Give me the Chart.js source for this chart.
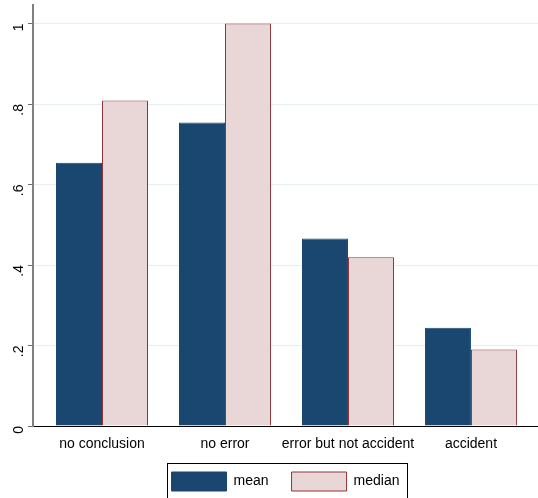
<!DOCTYPE html>
<html>
<head>
<meta charset="utf-8">
<script src="https://cdn.jsdelivr.net/npm/chart.js@4/dist/chart.umd.min.js"></script>
<style>
  html, body { margin: 0; padding: 0; background: #fff; }
  #wrap { width: 538px; height: 498px; }
</style>
</head>
<body>
<div id="wrap"><canvas id="barChart"></canvas></div>
<script>
const categories = ["no conclusion", "no error", "error but not accident", "accident"];
const meanValues = [0.654, 0.754, 0.466, 0.244];
const medianValues = [0.809, 1.0, 0.419, 0.19];
const yTickValues = [0, 0.2, 0.4, 0.6, 0.8, 1];
const yTickLabels = ["0", ".2", ".4", ".6", ".8", "1"];
const seriesNames = ["mean", "median"];

const fontFamily = "'Liberation Sans', Arial, sans-serif";

// legend is centred on the plot region and gets a stata style box
const legendBox = {
  id: "legendBox",
  afterLayout(chart) {
    chart.legend.left = chart.chartArea.left;
  },
  afterDraw(chart) {
    const boxes = chart.legend.legendHitBoxes;
    if (!boxes || !boxes.length) return;
    const first = boxes[0];
    const last = boxes[boxes.length - 1];
    const ctx = chart.ctx;
    ctx.save();
    ctx.strokeStyle = "#000";
    ctx.lineWidth = 1;
    const left = Math.round(first.left - 5) + 0.5;
    const right = Math.round(last.left + last.width + 8) + 0.5;
    const top = Math.round(first.top - 9) + 0.5;
    ctx.strokeRect(left, top, right - left, chart.height + 5 - top);
    ctx.restore();
  },
};

function toPoints(values) {
  return values.map((v, i) => ({ x: i, y: v }));
}

const chart = new Chart(document.getElementById("barChart"), {
  type: "bar",
  data: {
    datasets: [
      {
        label: seriesNames[0],
        data: toPoints(meanValues),
        backgroundColor: "#1a476f",
        borderColor: "#1a476f",
        borderWidth: 1,
        categoryPercentage: 0.748,
        barPercentage: 1.0,
      },
      {
        label: seriesNames[1],
        data: toPoints(medianValues),
        backgroundColor: "#e9d7d8",
        borderColor: "#90353b",
        borderWidth: 1,
        categoryPercentage: 0.748,
        barPercentage: 1.0,
      },
    ],
  },
  options: {
    responsive: true,
    maintainAspectRatio: false,
    animation: false,
    layout: { padding: { top: 5, right: 0, left: 0, bottom: -3 } },
    plugins: {
      tooltip: { enabled: false },
      legend: {
        position: "bottom",
        labels: {
          boxWidth: 55,
          boxHeight: 19,
          padding: 23,
          color: "#000",
          font: { family: fontFamily, size: 14 },
        },
      },
    },
    scales: {
      x: {
        type: "linear",
        offset: false,
        min: -0.561,
        max: 3.545,
        grid: { display: false, drawTicks: false },
        border: { display: true, color: "#000", width: 1 },
        afterBuildTicks: (scale) => {
          scale.ticks = categories.map((c, i) => ({ value: i }));
        },
        afterFit: (scale) => {
          scale.height = 23;
        },
        ticks: {
          color: "#000",
          padding: 10,
          maxRotation: 0,
          autoSkip: false,
          font: { family: fontFamily, size: 14 },
          callback: (value) => categories[value],
        },
      },
      y: {
        min: 0,
        max: 1.046,
        afterBuildTicks: (scale) => {
          scale.ticks = yTickValues.map((v) => ({ value: v }));
        },
        afterFit: (scale) => {
          scale.width = 33;
          scale.paddingTop = 0;
          scale.paddingBottom = 0;
        },
        grid: {
          color: "#e6eef0",
          tickColor: "#6e6e6e",
          tickLength: 5,
          lineWidth: 1,
        },
        border: { display: true, color: "#7f7f7f", width: 2 },
        ticks: {
          color: "#000",
          minRotation: 90,
          maxRotation: 90,
          padding: 9,
          font: { family: fontFamily, size: 14 },
          callback: (value) => {
            const idx = yTickValues.indexOf(value);
            return idx >= 0 ? yTickLabels[idx] : "";
          },
        },
      },
    },
  },
  plugins: [legendBox],
});
</script>
</body>
</html>
